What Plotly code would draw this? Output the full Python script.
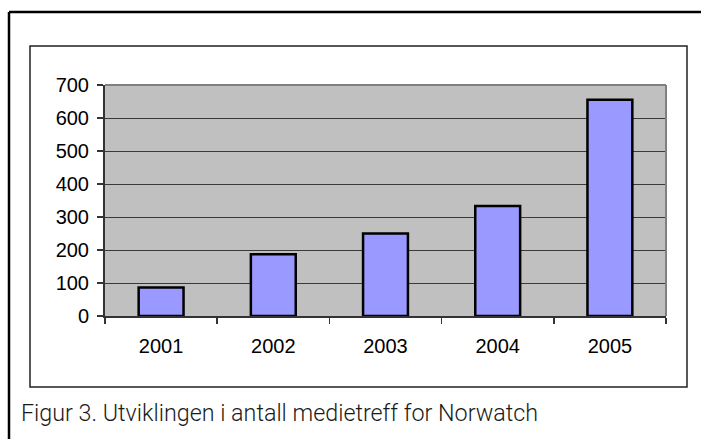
import plotly.graph_objects as go

years = ["2001", "2002", "2003", "2004", "2005"]
medietreff = [86, 187, 250, 333, 655]
y_ticks = [0, 100, 200, 300, 400, 500, 600, 700]
caption = "Figur 3. Utviklingen i antall medietreff for Norwatch"

W, H = 701, 439
px = lambda v: v / W
py = lambda v: 1 - v / H

fig = go.Figure()
fig.add_trace(go.Bar(
    x=years, y=medietreff,
    marker=dict(color="#9999FF", line=dict(color="#000000", width=2.5)),
    width=0.4,
))

fig.update_layout(
    width=W, height=H,
    autosize=False,
    margin=dict(l=0, r=0, t=0, b=0, pad=0),
    paper_bgcolor="white",
    plot_bgcolor="#C0C0C0",
    showlegend=False,
    font=dict(family="Liberation Sans, Arial, sans-serif", size=20, color="#000000"),
    xaxis=dict(
        domain=[px(105), px(666)],
        automargin=False,
        type="category",
        range=[-0.5, 4.5],
        tickson="boundaries",
        ticks="outside", ticklen=6, tickwidth=1.5, tickcolor="#333333",
        showline=True, linecolor="#333333", linewidth=2,
        showgrid=False,
        ticklabelstandoff=11,
        tickfont=dict(size=20),
    ),
    yaxis=dict(
        domain=[py(316), py(85)],
        automargin=False,
        range=[0, 700],
        tickvals=y_ticks,
        ticks="outside", ticklen=6, tickwidth=1.5, tickcolor="#333333",
        showline=True, linecolor="#333333", linewidth=2,
        showgrid=True, gridcolor="#3a3a3a", gridwidth=1,
        zeroline=False,
        ticklabelstandoff=4,
        tickfont=dict(size=20),
    ),
    shapes=[
        # outer frame (left and top edges)
        dict(type="line", xref="paper", yref="paper", x0=px(9), x1=px(9), y0=py(12), y1=0,
             line=dict(color="#000000", width=2.5)),
        dict(type="line", xref="paper", yref="paper", x0=px(9), x1=1, y0=py(12), y1=py(12),
             line=dict(color="#000000", width=2.5)),
        # chart area box
        dict(type="rect", xref="paper", yref="paper", x0=px(30), x1=px(687), y0=py(387), y1=py(46),
             line=dict(color="#222222", width=1.5), layer="below"),
        # plot area grey top/right border
        dict(type="line", xref="paper", yref="paper", x0=px(105), x1=px(666), y0=py(85), y1=py(85),
             line=dict(color="#808080", width=2)),
        dict(type="line", xref="paper", yref="paper", x0=px(666), x1=px(666), y0=py(85), y1=py(316),
             line=dict(color="#808080", width=2)),
    ],
    annotations=[
        dict(text=caption, xref="paper", yref="paper", x=px(19), y=py(413),
             xanchor="left", yanchor="middle", showarrow=False,
             font=dict(family="Roboto, Liberation Sans, sans-serif", weight=300,
                       size=23.3, color="#1a1a1a")),
    ],
)

fig.write_html("out.html",
               config={"displayModeBar": False, "staticPlot": True},
               post_script="document.body.style.margin='0';document.body.style.overflow='hidden';")
